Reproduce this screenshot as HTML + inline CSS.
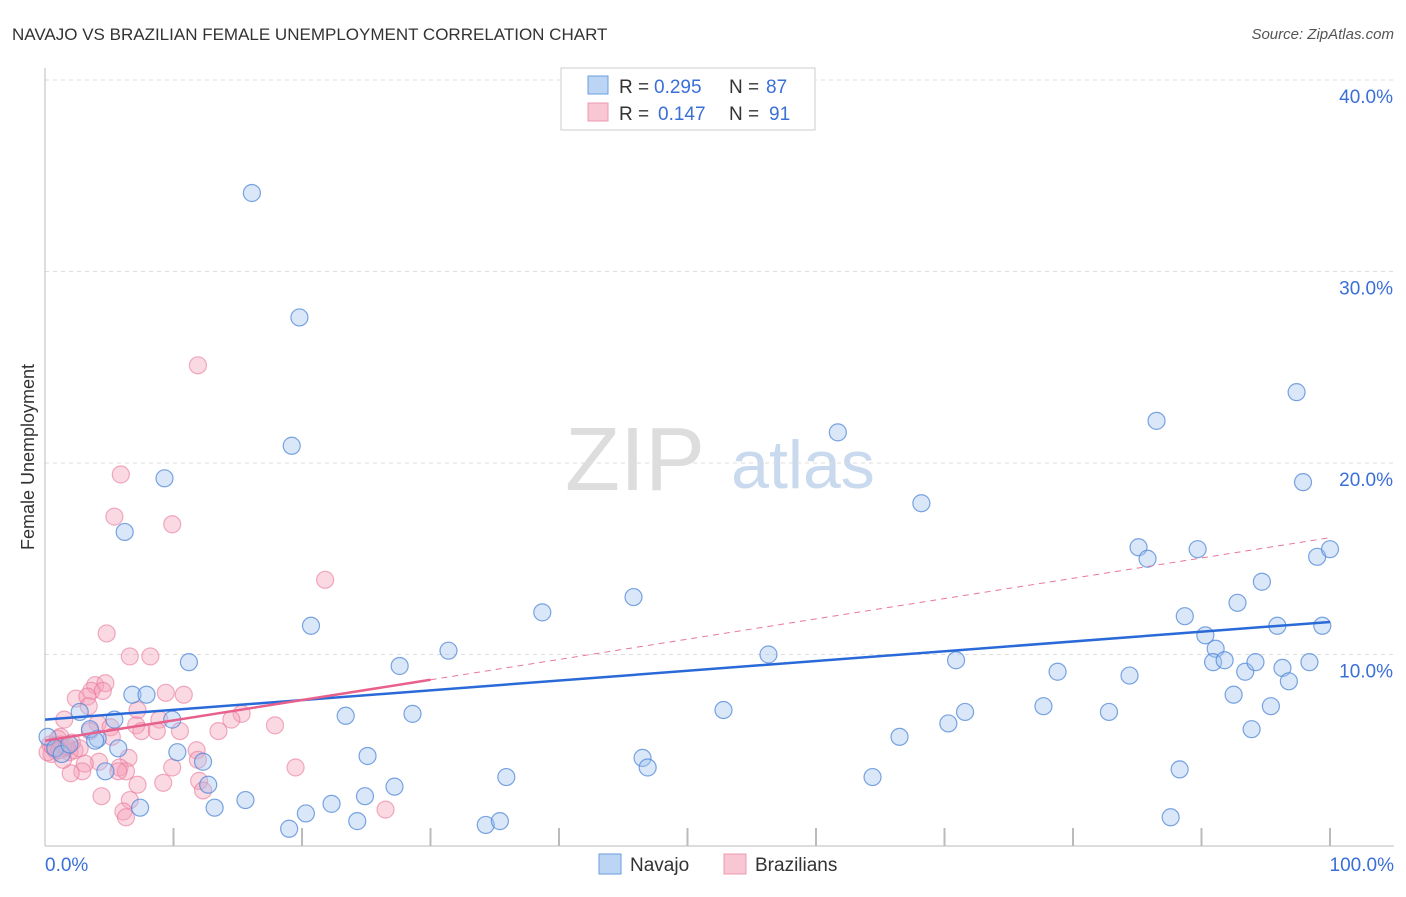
<!DOCTYPE html>
<html><head><meta charset="utf-8"><style>
body{margin:0;background:#fff;font-family:"Liberation Sans",sans-serif;}
svg text{font-family:"Liberation Sans",sans-serif;}
</style></head><body>
<svg id="chart" width="1406" height="892" xmlns="http://www.w3.org/2000/svg">
<text x="12" y="40" font-size="17" fill="#333">NAVAJO VS BRAZILIAN FEMALE UNEMPLOYMENT CORRELATION CHART</text>
<text x="1394" y="39" font-size="15" fill="#555" text-anchor="end" font-style="italic">Source: ZipAtlas.com</text>
<text x="34" y="457" font-size="18" fill="#333" text-anchor="middle" transform="rotate(-90 34 457)">Female Unemployment</text>
<g><text x="635" y="490" font-size="90" fill="#ddd" text-anchor="middle" font-family="Liberation Serif">ZIP</text><text x="803" y="488" font-size="68" fill="#c9d9ee" text-anchor="middle">atlas</text></g>
<g id="grid"></g><g id="marks"></g><g id="trends"></g>
<g>
<rect x="561" y="68" width="254" height="62" fill="#fff" stroke="#ccc"/>
<rect x="588" y="76" width="20" height="18" fill="#bcd5f5" stroke="#6a9ee0"/>
<rect x="588" y="103" width="20" height="18" fill="#f9c6d4" stroke="#ec9ab2"/>
<text x="619" y="93" font-size="19" fill="#333">R =</text>
<text x="654" y="93" font-size="19" fill="#3a6fd8">0.295</text>
<text x="729" y="93" font-size="19" fill="#333">N =</text>
<text x="766" y="93" font-size="19" fill="#3a6fd8">87</text>
<text x="619" y="120" font-size="19" fill="#333">R =</text>
<text x="658" y="120" font-size="19" fill="#3a6fd8">0.147</text>
<text x="729" y="120" font-size="19" fill="#333">N =</text>
<text x="769" y="120" font-size="19" fill="#3a6fd8">91</text>
</g>
<g>
<rect x="599" y="854" width="22" height="20" fill="#bcd5f5" stroke="#6a9ee0"/>
<text x="630" y="871" font-size="19" fill="#333">Navajo</text>
<rect x="724" y="854" width="22" height="20" fill="#f9c6d4" stroke="#ec9ab2"/>
<text x="755" y="871" font-size="19" fill="#333">Brazilians</text>
</g>
</svg>
<script>
const yTicks=[10,20,30,40];
const yTickLabels=["10.0%","20.0%","30.0%","40.0%"];
const xTickLabels=["0.0%","100.0%"];
const navajoX=[16.1,19.8,19.2,9.3,6.2,20.7,11.2,6.8,7.9,9.9,5.4,2.7,4.1,5.7,10.3,12.3,12.7,4.7,7.4,13.2,15.6,19.0,20.3,22.3,24.3,24.9,25.1,23.4,27.2,27.6,28.6,31.4,34.3,35.4,35.9,38.7,45.8,46.5,46.9,52.8,56.3,61.7,64.4,66.5,68.2,70.3,70.9,71.6,77.7,78.8,82.8,84.4,85.1,85.8,86.5,88.3,87.6,88.7,89.7,90.3,91.1,90.9,91.8,92.5,92.8,93.4,93.9,94.2,94.7,95.4,95.9,96.3,96.8,97.4,97.9,98.4,99.0,99.4,100,0.2,0.8,1.3,1.9,3.5,3.9];
const navajoY=[34.1,27.6,20.9,19.2,16.4,11.5,9.6,7.9,7.9,6.6,6.6,7.0,5.6,5.1,4.9,4.4,3.2,3.9,2.0,2.0,2.4,0.9,1.7,2.2,1.3,2.6,4.7,6.8,3.1,9.4,6.9,10.2,1.1,1.3,3.6,12.2,13.0,4.6,4.1,7.1,10.0,21.6,3.6,5.7,17.9,6.4,9.7,7.0,7.3,9.1,7.0,8.9,15.6,15.0,22.2,4.0,1.5,12.0,15.5,11.0,10.3,9.6,9.7,7.9,12.7,9.1,6.1,9.6,13.8,7.3,11.5,9.3,8.6,23.7,19.0,9.6,15.1,11.5,15.5,5.7,5.1,4.8,5.3,6.1,5.5];
const brazX=[11.9,5.9,5.4,9.9,21.8,4.8,6.6,8.2,3.9,4.7,3.6,4.5,2.4,3.3,9.4,10.8,3.4,7.2,15.3,14.5,1.5,8.9,17.9,7.1,7.5,8.7,10.5,13.5,4.1,5.1,3.5,1.2,5.2,11.8,6.5,4.2,3.1,11.9,9.9,5.8,2.9,2.0,6.3,5.7,19.5,12.0,12.3,7.2,9.2,6.6,4.4,6.1,6.3,26.5,0.4,0.8,1.2,1.6,0.5,1.0,1.9,2.3,0.2,1.4,2.1,2.7,0.6,1.1,1.7];
const brazY=[25.1,19.4,17.2,16.8,13.9,11.1,9.9,9.9,8.4,8.5,8.1,8.1,7.7,7.8,8.0,7.9,7.3,7.1,6.9,6.6,6.6,6.6,6.3,6.3,6.0,6.0,6.0,6.0,6.4,6.2,6.0,5.7,5.7,5.0,4.6,4.4,4.3,4.5,4.1,4.1,3.9,3.8,3.9,3.9,4.1,3.4,2.9,3.2,3.3,2.4,2.6,1.8,1.5,1.9,5.3,5.0,5.3,5.1,4.8,5.6,4.9,5.0,4.9,4.5,5.4,5.1,5.2,5.0,5.2];
const navTrend=[6.6,11.7];
const brazTrend=[5.5,16.1];
const brazSolidEnd=30;

const X=v=>45+v*12.85, Y=v=>846-v*19.15;
const NS="http://www.w3.org/2000/svg";
function mk(t,a,p){const e=document.createElementNS(NS,t);for(const k in a)e.setAttribute(k,a[k]);p.appendChild(e);return e;}
const grid=document.getElementById('grid'),marks=document.getElementById('marks'),tr=document.getElementById('trends');
yTicks.forEach((v,i)=>{
 const l=mk('line',{x1:45,x2:1394,y1:Y(v),y2:Y(v),stroke:'#ddd','stroke-dasharray':'4,4'},grid);
 
 
 const t=mk('text',{x:1393,y:Y(v)+23,'font-size':19,fill:'#3a6fd8','text-anchor':'end'},grid);
 t.textContent=yTickLabels[i];
 
 
});
const ax=mk('line',{x1:45,x2:45,y1:68,y2:846,stroke:'#bbb'},grid);


const bx=mk('line',{x1:45,x2:1394,y1:846,y2:846,stroke:'#bbb'},grid);


for(let v=10;v<=100;v+=10){
 const t=mk('line',{x1:X(v),x2:X(v),y1:828,y2:846,stroke:'#bbb','stroke-width':2},grid);
 
 
}
[[0,'start',45],[100,'end',1394]].forEach((d,i)=>{
 const t=mk('text',{x:d[2],y:871,'font-size':19,fill:'#3a6fd8','text-anchor':d[1]},grid);
 t.textContent=xTickLabels[i];
 
 
});
brazX.forEach((x,i)=>{
 const c=mk('circle',{cx:X(x),cy:Y(brazY[i]),r:8.5,fill:'rgba(244,160,185,0.4)',stroke:'rgba(232,120,155,0.6)','stroke-width':1.2},marks);
 
 
});
navajoX.forEach((x,i)=>{
 const c=mk('circle',{cx:X(x),cy:Y(navajoY[i]),r:8.5,fill:'rgba(160,195,240,0.4)',stroke:'rgba(80,135,215,0.75)','stroke-width':1.2},marks);
 
 
});
const by=v=>brazTrend[0]+(brazTrend[1]-brazTrend[0])*v/100;
const d1=mk('line',{x1:X(brazSolidEnd),y1:Y(by(brazSolidEnd)),x2:X(100),y2:Y(brazTrend[1]),stroke:'#e8779c','stroke-width':1,'stroke-dasharray':'6,5'},tr);


const n1=mk('line',{x1:X(0),y1:Y(navTrend[0]),x2:X(100),y2:Y(navTrend[1]),stroke:'#2a6ad8','stroke-width':2.5},tr);


const b1=mk('line',{x1:X(0),y1:Y(brazTrend[0]),x2:X(brazSolidEnd),y2:Y(by(brazSolidEnd)),stroke:'#e8608c','stroke-width':2.5},tr);


</script>
</body></html>
